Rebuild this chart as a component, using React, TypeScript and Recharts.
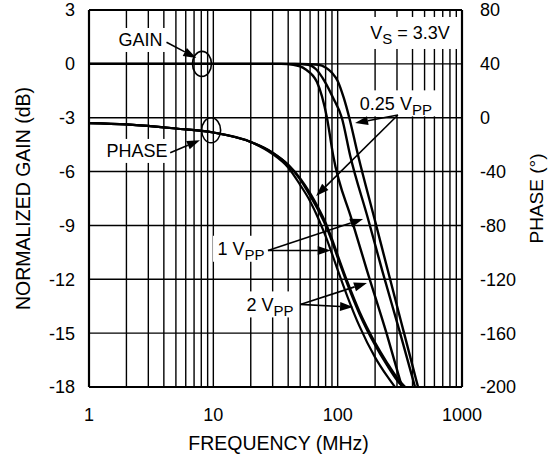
import React from 'react';
import {
  LineChart,
  Line,
  XAxis,
  YAxis,
  CartesianGrid,
  ReferenceLine,
  ReferenceDot,
  Label,
} from 'recharts';

const FONT = '"Liberation Sans", Arial, Helvetica, sans-serif';
const INK = '#000';

// axes
const freqTicks = [1, 10, 100, 1000];
const freqGrid = [2, 3, 4, 5, 6, 7, 8, 9, 10, 20, 30, 40, 50, 60, 70, 80, 90, 100, 200, 300, 400, 500, 600, 700, 800, 900];
const gainTicks = [-18, -15, -12, -9, -6, -3, 0, 3];
const phaseTicks = [-200, -160, -120, -80, -40, 0, 40, 80];

// normalized gain (dB) vs frequency (MHz)
const gain025Freq = [1, 50, 70, 80, 90, 100, 112, 124, 146, 199, 253, 342, 443];
const gain025 = [0, 0, -0.05, -0.2, -0.5, -0.95, -1.9, -3.0, -5.1, -8.7, -11.5, -15.0, -18];
const gain1Freq = [1, 45, 58, 67, 79, 92, 108, 126, 175, 228, 318, 419];
const gain1 = [0, 0, -0.05, -0.3, -1.0, -1.9, -3.0, -5.1, -8.6, -11.5, -15.0, -18];
const gain2Freq = [1, 35, 44, 55, 68, 82, 92, 130, 172, 247, 329];
const gain2 = [0, 0, -0.05, -0.3, -1.0, -3.0, -5.1, -8.7, -11.5, -15.0, -18];

// phase (deg) vs frequency (MHz)
const phaseFreq = [1, 2, 5, 10, 20, 30, 40, 50, 60, 70, 80, 90, 100, 120, 150, 200, 250, 300, 350];
const phase025 = [-4, -5, -8, -11, -18, -26, -35, -45, -56, -67, -78, -90, -102, -122, -144, -167, -182, -193, -200];
const phase1 = [-4, -5, -8, -11, -18, -26, -35, -46, -58, -69, -80, -92, -104, -124, -146, -169, -184, -195, -202];
const phase2 = [-4, -5, -8, -11, -18, -27, -37, -50, -62, -75, -88, -101, -113, -133, -155, -178, -192, -202, -210];

// annotation anchors, in (MHz, dB)
const gainLabelAt = { x: 2.6, y: 1.33 };
const gainArrow = [{ x: 4.2, y: 1.2 }, { x: 7.3, y: 0.33 }];
const gainRingAt = { x: 8.1, y: 0 };
const phaseLabelAt = { x: 2.43, y: -4.85 };
const phaseArrow = [{ x: 4.5, y: -4.95 }, { x: 7.8, y: -4.25 }];
const phaseRingAt = { x: 9.6, y: -3.7 };
const vsLabelAt = { x: 382, y: 1.72 };
const v025LabelAt = { x: 294, y: -2.2 };
const v025Arrows = [
  [{ x: 305, y: -2.85 }, { x: 138, y: -3.3 }],
  [{ x: 305, y: -2.85 }, { x: 67, y: -7.36 }],
];
const v1LabelAt = { x: 16.7, y: -10.3 };
const v1Arrows = [
  [{ x: 27.5, y: -10.4 }, { x: 160, y: -8.64 }],
  [{ x: 27.5, y: -10.4 }, { x: 88, y: -10.4 }],
];
const v2LabelAt = { x: 28.6, y: -13.4 };
const v2Arrows = [
  [{ x: 50, y: -13.4 }, { x: 172, y: -12.2 }],
  [{ x: 50, y: -13.4 }, { x: 133, y: -13.55 }],
];

const pts = (fs: number[], vs: number[]) => fs.map((f, i) => ({ f, v: vs[i] }));

function Arrow(p: any) {
  const { x1, y1, x2, y2 } = p;
  const a = Math.atan2(y2 - y1, x2 - x1);
  const len = 13;
  const half = 4.5;
  const bx = x2 - len * Math.cos(a);
  const by = y2 - len * Math.sin(a);
  const px = -Math.sin(a) * half;
  const py = Math.cos(a) * half;
  return (
    <g>
      <line x1={x1} y1={y1} x2={bx} y2={by} stroke={INK} strokeWidth={1.6} />
      <polygon points={`${x2},${y2} ${bx + px},${by + py} ${bx - px},${by - py}`} fill={INK} />
    </g>
  );
}

const textBox = (w: number, h: number, content: React.ReactNode) => (p: any) => (
  <g>
    <rect x={p.cx - w / 2} y={p.cy - h / 2} width={w} height={h} fill="#fff" />
    <text
      x={p.cx}
      y={p.cy}
      dy="0.36em"
      textAnchor="middle"
      fontSize={18}
      fontFamily={FONT}
      fill={INK}
    >
      {content}
    </text>
  </g>
);

const ring = (p: any) => (
  <ellipse cx={p.cx} cy={p.cy} rx={9.5} ry={12.5} fill="none" stroke={INK} strokeWidth={1.6} />
);

const vpp = (n: string) => (
  <>
    <tspan>{n} V</tspan>
    <tspan fontSize={15} dy={5}>PP</tspan>
  </>
);

export default function App() {
  const tick = { fontSize: 18, fill: INK, fontFamily: FONT };
  const arrow = (seg: { x: number; y: number }[], key: string) => (
    <ReferenceLine
      key={key}
      yAxisId="gain"
      segment={seg}
      ifOverflow="visible"
      shape={Arrow}
      zIndex={1600}
    />
  );

  return (
    <div style={{ position: 'absolute', left: 0, top: 0, width: 549, height: 464, background: '#fff', fontFamily: FONT }}>
      <LineChart width={549} height={464} margin={{ top: 10, right: 0, bottom: 0, left: 0 }}>
        <CartesianGrid yAxisId="gain" vertical={false} stroke={INK} strokeWidth={1.4} strokeOpacity={1} />
        <XAxis
          type="number"
          dataKey="f"
          scale="log"
          domain={[1, 1000]}
          ticks={freqTicks}
          interval={0}
          allowDataOverflow
          height={77}
          tickSize={0}
          tickMargin={21}
          axisLine={false}
          tick={tick}
        >
          <Label value="FREQUENCY (MHz)" position="insideBottom" offset={14} fontSize={19.5} fill={INK} fontFamily={FONT} dx={3} />
        </XAxis>
        <YAxis
          yAxisId="gain"
          type="number"
          domain={[-18, 3]}
          ticks={gainTicks}
          interval={0}
          allowDataOverflow
          width={89}
          tickSize={0}
          tickMargin={14}
          axisLine={false}
          tick={tick}
        >
          <Label
            value="NORMALIZED GAIN (dB)"
            angle={-90}
            position="insideLeft"
            offset={23}
            fontSize={19.5}
            fill={INK}
            fontFamily={FONT}
            style={{ textAnchor: 'middle' }}
          />
        </YAxis>
        <YAxis
          yAxisId="phase"
          orientation="right"
          type="number"
          domain={[-200, 80]}
          ticks={phaseTicks}
          interval={0}
          allowDataOverflow
          width={87}
          tickSize={0}
          tickMargin={18}
          axisLine={false}
          tick={tick}
        >
          <Label
            value="PHASE (°)"
            angle={-90}
            position="insideRight"
            offset={13}
            fontSize={19}
            fill={INK}
            fontFamily={FONT}
            style={{ textAnchor: 'middle' }}
          />
        </YAxis>

        {freqGrid.map((f) => (
          <ReferenceLine key={`g${f}`} yAxisId="gain" x={f} stroke={INK} strokeWidth={1.4} zIndex={-90} />
        ))}
        <ReferenceLine yAxisId="gain" x={1} stroke={INK} strokeWidth={2.2} ifOverflow="visible" />
        <ReferenceLine yAxisId="gain" x={1000} stroke={INK} strokeWidth={2.2} ifOverflow="visible" />
        <ReferenceLine yAxisId="gain" y={3} stroke={INK} strokeWidth={2.2} ifOverflow="visible" />
        <ReferenceLine yAxisId="gain" y={-18} stroke={INK} strokeWidth={2.2} ifOverflow="visible" />

        <Line yAxisId="gain" data={pts(gain025Freq, gain025)} dataKey="v" type="monotone" stroke={INK} strokeWidth={2.4} dot={false} isAnimationActive={false} />
        <Line yAxisId="gain" data={pts(gain1Freq, gain1)} dataKey="v" type="monotone" stroke={INK} strokeWidth={2.4} dot={false} isAnimationActive={false} />
        <Line yAxisId="gain" data={pts(gain2Freq, gain2)} dataKey="v" type="monotone" stroke={INK} strokeWidth={2.4} dot={false} isAnimationActive={false} />
        <Line yAxisId="phase" data={pts(phaseFreq, phase025)} dataKey="v" type="monotone" stroke={INK} strokeWidth={2.2} dot={false} isAnimationActive={false} />
        <Line yAxisId="phase" data={pts(phaseFreq, phase1)} dataKey="v" type="monotone" stroke={INK} strokeWidth={2.2} dot={false} isAnimationActive={false} />
        <Line yAxisId="phase" data={pts(phaseFreq, phase2)} dataKey="v" type="monotone" stroke={INK} strokeWidth={2.2} dot={false} isAnimationActive={false} />

        <ReferenceDot yAxisId="gain" {...gainLabelAt} r={0} ifOverflow="visible" zIndex={1500} shape={textBox(54, 24, 'GAIN')} />
        <ReferenceDot yAxisId="gain" {...phaseLabelAt} r={0} ifOverflow="visible" zIndex={1500} shape={textBox(70, 24, 'PHASE')} />
        <ReferenceDot
          yAxisId="gain"
          {...vsLabelAt}
          r={0}
          ifOverflow="visible"
          zIndex={1500}
          shape={textBox(96, 32, (
            <>
              <tspan>V</tspan>
              <tspan fontSize={15} dy={5}>S</tspan>
              <tspan dy={-5}> = 3.3V</tspan>
            </>
          ))}
        />
        <ReferenceDot yAxisId="gain" {...v025LabelAt} r={0} ifOverflow="visible" zIndex={1500} shape={textBox(88, 26, vpp('0.25'))} />
        <ReferenceDot yAxisId="gain" {...v1LabelAt} r={0} ifOverflow="visible" zIndex={1500} shape={textBox(56, 26, vpp('1'))} />
        <ReferenceDot yAxisId="gain" {...v2LabelAt} r={0} ifOverflow="visible" zIndex={1500} shape={textBox(56, 26, vpp('2'))} />

        <ReferenceDot yAxisId="gain" {...gainRingAt} r={0} ifOverflow="visible" zIndex={1550} shape={ring} />
        <ReferenceDot yAxisId="gain" {...phaseRingAt} r={0} ifOverflow="visible" zIndex={1550} shape={ring} />

        {arrow(gainArrow, 'ag')}
        {arrow(phaseArrow, 'ap')}
        {v025Arrows.map((s, i) => arrow(s, `a025${i}`))}
        {v1Arrows.map((s, i) => arrow(s, `a1${i}`))}
        {v2Arrows.map((s, i) => arrow(s, `a2${i}`))}
      </LineChart>
    </div>
  );
}
